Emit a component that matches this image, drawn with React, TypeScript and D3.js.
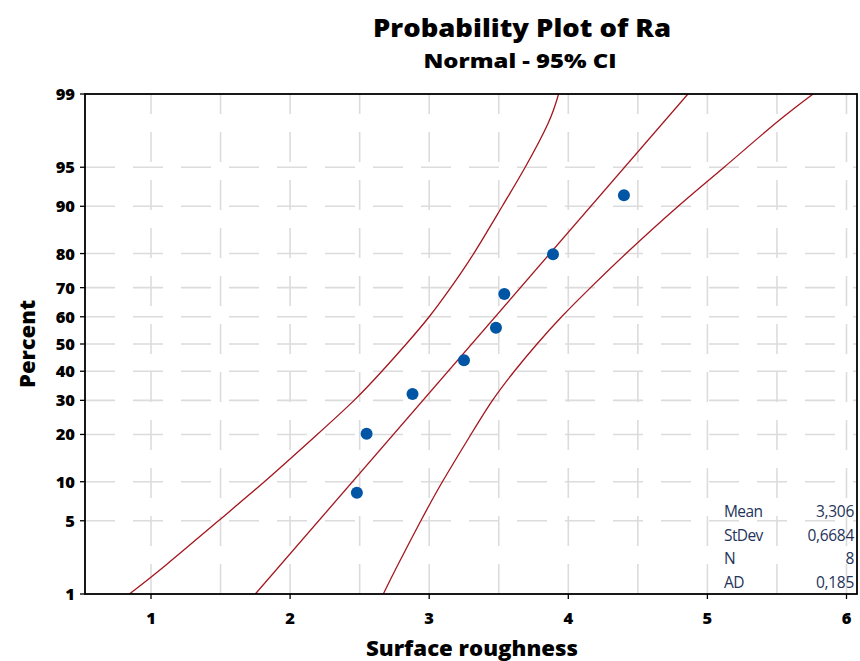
import React from "react";
import * as d3 from "d3";

// ---- data ----
const pointPercent = [8.3, 20.2, 32.1, 44.0, 56.0, 67.9, 79.8, 91.7];
const pointX = [2.48, 2.55, 2.88, 3.25, 3.48, 3.54, 3.89, 4.4];

const fitPercent = [1, 99];
const fitX = [1.75, 4.86];

const bandPercent = [1, 2, 5, 10, 20, 30, 40, 50, 60, 70, 80, 90, 95, 98, 99];
const lowerBandX = [0.845, 1.11, 1.485, 1.815, 2.195, 2.46, 2.66, 2.835, 3.0, 3.155, 3.32, 3.525, 3.69, 3.855, 3.93];
const upperBandX = [2.67, 2.775, 2.94, 3.095, 3.3, 3.455, 3.612, 3.775, 3.952, 4.16, 4.415, 4.79, 5.12, 5.49, 5.76];

const yTicks = [1, 5, 10, 20, 30, 40, 50, 60, 70, 80, 90, 95, 99];
const xTicks = [1, 2, 3, 4, 5, 6];
const xGrid = [1, 1.5, 2, 2.5, 3, 3.5, 4, 4.5, 5, 5.5, 6];

const statLabels = ["Mean", "StDev", "N", "AD"];
const statValues = ["3,306", "0,6684", "8", "0,185"];

// inverse standard normal CDF (Acklam) used for the probability scale
function probit(p: number): number {
  const a = [-39.69683028665376, 220.9460984245205, -275.928510446969, 138.357751867269, -30.66479806614716, 2.506628277459239];
  const b = [-54.47609879822406, 161.5858368580409, -155.6989798598866, 66.80131188771972, -13.28068155288572];
  const c = [-0.007784894002430293, -0.3223964580411365, -2.400758277161838, -2.549732539343734, 4.374664141464968, 2.938163982698783];
  const d = [0.007784695709041462, 0.3224671290700398, 2.445134137142996, 3.754408661907416];
  const pl = 0.02425;
  if (p < pl) {
    const q = Math.sqrt(-2 * Math.log(p));
    return (((((c[0] * q + c[1]) * q + c[2]) * q + c[3]) * q + c[4]) * q + c[5]) / ((((d[0] * q + d[1]) * q + d[2]) * q + d[3]) * q + 1);
  }
  if (p > 1 - pl) {
    const q = Math.sqrt(-2 * Math.log(1 - p));
    return -(((((c[0] * q + c[1]) * q + c[2]) * q + c[3]) * q + c[4]) * q + c[5]) / ((((d[0] * q + d[1]) * q + d[2]) * q + d[3]) * q + 1);
  }
  const q = p - 0.5;
  const r = q * q;
  return ((((((a[0] * r + a[1]) * r + a[2]) * r + a[3]) * r + a[4]) * r + a[5]) * q) / (((((b[0] * r + b[1]) * r + b[2]) * r + b[3]) * r + b[4]) * r + 1);
}

const W = 860;
const H = 661;
const L = 85, R = 857, T = 94, B = 594;

const FONT = "'Open Sans', 'Noto Sans', sans-serif";

export default function App() {
  const x = d3.scaleLinear().domain([0.5255, 6.0755]).range([L, R]);
  const zScale = d3.scaleLinear().domain([probit(0.01), probit(0.99)]).range([B, T]);
  const y = (pct: number) => zScale(probit(pct / 100));

  const line = d3
    .line<[number, number]>()
    .x((d) => x(d[0]))
    .y((d) => y(d[1]))
    .curve(d3.curveNatural);

  const lowerPts = lowerBandX.map((v, i) => [v, bandPercent[i]] as [number, number]);
  const upperPts = upperBandX.map((v, i) => [v, bandPercent[i]] as [number, number]);
  const fitPts = fitX.map((v, i) => [v, fitPercent[i]] as [number, number]);

  const gridColor = "#dcdcdc";
  const red = "#a3161e";

  return (
    <svg width={W} height={H} style={{ position: "absolute", left: 0, top: 0, background: "#fff" }}>
      <defs>
        <clipPath id="plotclip">
          <rect x={L} y={T} width={R - L} height={B - T} />
        </clipPath>
      </defs>
      <rect x={0} y={0} width={W} height={H} fill="#fff" />

      {/* title */}
      <text x={522} y={37} textAnchor="middle" fontFamily={FONT} fontWeight={800} fontSize={25}
        textLength={298} lengthAdjust="spacingAndGlyphs" fill="#000">Probability Plot of Ra</text>
      <text x={520} y={68} textAnchor="middle" fontFamily={FONT} fontWeight={800} fontSize={20}
        textLength={193} lengthAdjust="spacingAndGlyphs" fill="#000">Normal - 95% CI</text>

      {/* grid */}
      <g clipPath="url(#plotclip)">
        {xGrid.map((g) => (
          <line key={"vx" + g} x1={x(g)} x2={x(g)} y1={B} y2={T} stroke={gridColor} strokeWidth={1.6} strokeDasharray="30,18" />
        ))}
        {yTicks.filter((t) => t !== 1 && t !== 99).map((t) => (
          <line key={"hy" + t} x1={L} x2={R} y1={y(t)} y2={y(t)} stroke={gridColor} strokeWidth={1.6} strokeDasharray="30,18" />
        ))}
      </g>

      {/* stats table */}
      {statLabels.map((s, i) => (
        <g key={s}>
          <text x={724} y={517 + i * 23.5} fontFamily={FONT} fontSize={15.5} fill="#24345a" letterSpacing={-0.6}>{s}</text>
          <text x={854} y={517 + i * 23.5} textAnchor="end" fontFamily={FONT} fontSize={15.5} fill="#24345a" letterSpacing={-0.3}>{statValues[i]}</text>
        </g>
      ))}

      {/* lines */}
      <g clipPath="url(#plotclip)" fill="none" stroke={red} strokeWidth={1.3}>
        <path d={line(lowerPts) || ""} />
        <path d={line(upperPts) || ""} />
        <path d={line(fitPts) || ""} />
      </g>

      {/* points */}
      {pointX.map((v, i) => (
        <circle key={i} cx={x(v)} cy={y(pointPercent[i])} r={6} fill="#0055a5" />
      ))}

      {/* frame */}
      <rect x={L} y={T} width={R - L} height={B - T} fill="none" stroke="#000" strokeWidth={1.8} />

      {/* y axis ticks */}
      {yTicks.map((t) => (
        <g key={"yt" + t}>
          <line x1={L - 5} x2={L} y1={y(t)} y2={y(t)} stroke="#000" strokeWidth={1.3} />
          <text x={75} y={y(t) + 6} textAnchor="end" fontFamily={FONT} fontWeight={800} fontSize={16.5} fill="#000">{t}</text>
        </g>
      ))}
      {/* x axis ticks */}
      {xTicks.map((t) => (
        <g key={"xt" + t}>
          <line x1={x(t)} x2={x(t)} y1={B} y2={B + 5} stroke="#000" strokeWidth={1.3} />
          <text x={x(t)} y={623.5} textAnchor="middle" fontFamily={FONT} fontWeight={800} fontSize={16.5} fill="#000">{t}</text>
        </g>
      ))}

      {/* axis titles */}
      <text x={472} y={656} textAnchor="middle" fontFamily={FONT} fontWeight={800} fontSize={21}
        textLength={212} lengthAdjust="spacingAndGlyphs" fill="#000">Surface roughness</text>
      <text transform="translate(35,344) rotate(-90)" textAnchor="middle" fontFamily={FONT} fontWeight={800} fontSize={21}
        textLength={88} lengthAdjust="spacingAndGlyphs" fill="#000">Percent</text>
    </svg>
  );
}
